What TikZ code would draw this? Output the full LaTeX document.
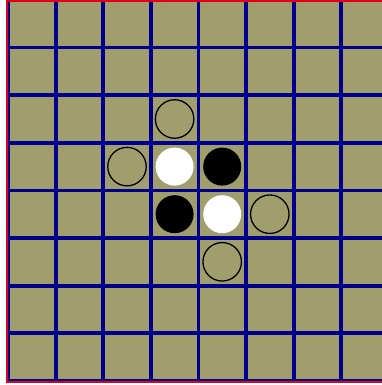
\documentclass[tikz,border=0pt]{standalone}
\definecolor{board}{RGB}{160,158,108}
\definecolor{gridblue}{RGB}{0,0,140}
\definecolor{framered}{RGB}{225,0,25}
\begin{document}
\begin{tikzpicture}[x=1pt,y=-1pt,
  piece/.style={circle,minimum size=38pt,inner sep=0pt},
  ghost/.style={piece,draw=black,line width=1.3pt,minimum size=38.5pt},
  whitepiece/.style={piece,fill=white},
  blackpiece/.style={piece,fill=black},
  gridline/.style={gridblue,line width=3.8pt},
  frameline/.style={framered,line width=2.2pt}]
\useasboundingbox (0,0) rectangle (382,385);
\fill[white] (0,0) rectangle (382,385);
\begin{scope}
  \clip (0,0) rectangle (382,385);
  \fill[board] (8,0) rectangle (390,381);
  \foreach \k in {0,...,8} {
    \draw[gridline] ({8+47.6*\k},0) -- ({8+47.6*\k},381);
    \draw[gridline] (8,{47.6*\k}) -- (390,{47.6*\k});
  }
  \draw[frameline] (390,1) -- (7,1) -- (7,382.2) -- (390,382.2);
\end{scope}
% pieces: column c -> x = 8+47.6(c+0.5), row r -> y = 47.6(r+0.5)
\node[ghost] (g1) at (174.6,119.0) {};
\node[ghost] (g2) at (127.0,166.6) {};
\node[ghost] (g3) at (269.8,214.2) {};
\node[ghost] (g4) at (222.2,261.8) {};
\node[whitepiece] (w1) at (174.6,166.6) {};
\node[whitepiece] (w2) at (222.2,214.2) {};
\node[blackpiece] (b1) at (222.2,166.6) {};
\node[blackpiece] (b2) at (174.6,214.2) {};
\end{tikzpicture}
\end{document}
